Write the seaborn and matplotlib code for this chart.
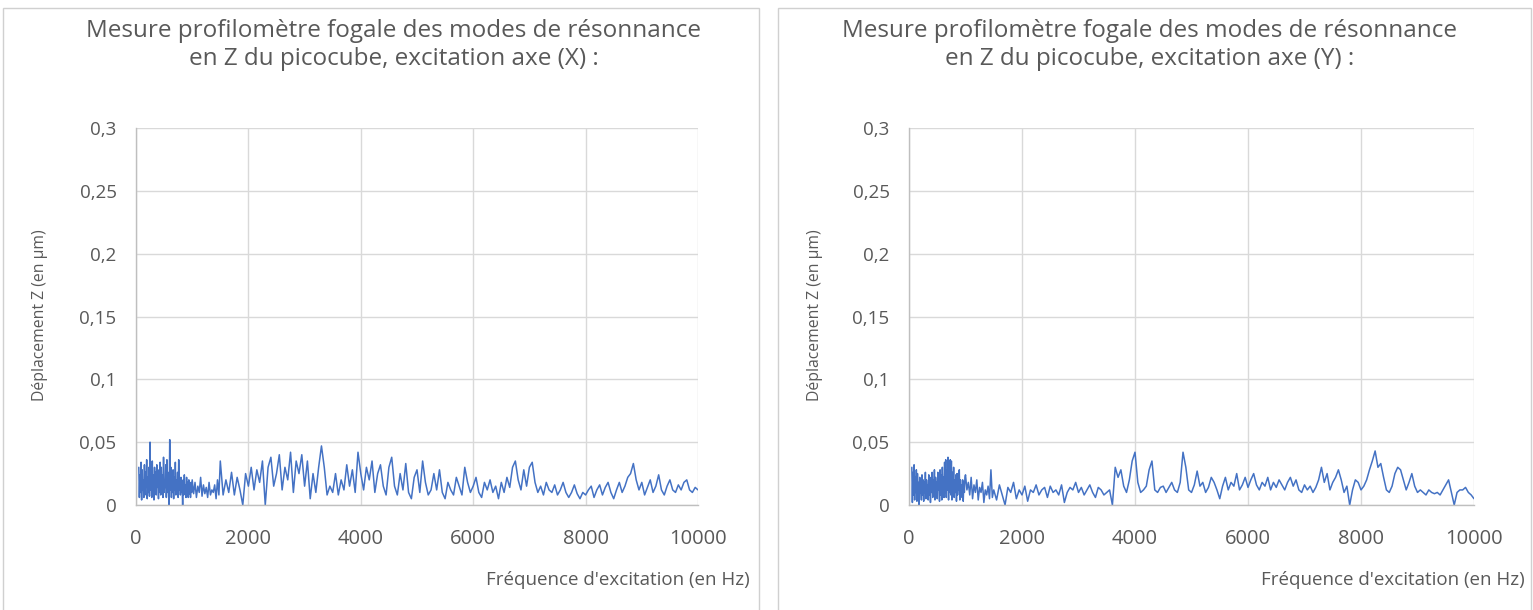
"""Profilometer (fogale) Z-resonance measurements of the picocube, X and Y excitation."""
import numpy as np
import pandas as pd
import matplotlib
matplotlib.use("Agg")
import matplotlib.pyplot as plt
from matplotlib.patches import Rectangle
from matplotlib.ticker import FuncFormatter
import seaborn as sns

# ------------------------------------------------------------------
# Data
# ------------------------------------------------------------------
# frequency grid: very fine sweep below 1000 Hz, then 25 Hz, then 50 Hz
freq_fine = np.arange(50, 1000, 10)
freq_mid = np.arange(1000, 1500, 25)
freq_coarse = np.arange(1500, 10001, 50)

x_fine = [
    0.030, 0.006, 0.024, 0.010, 0.034, 0.004, 0.028, 0.012, 0.020, 0.006,
    0.032, 0.008, 0.026, 0.014, 0.036, 0.005, 0.022, 0.010, 0.030, 0.007,
    0.050, 0.012, 0.028, 0.006, 0.035, 0.010, 0.024, 0.004, 0.030, 0.012,
    0.026, 0.008, 0.032, 0.014, 0.022, 0.005, 0.028, 0.010, 0.034, 0.008,
    0.030, 0.012, 0.024, 0.006, 0.038, 0.010, 0.020, 0.014, 0.032, 0.006,
    0.036, 0.010, 0.026, 0.008, 0.000, 0.052, 0.012, 0.030, 0.006, 0.024,
    0.010, 0.028, 0.005, 0.022, 0.012, 0.034, 0.008, 0.020, 0.010, 0.026,
    0.006, 0.036, 0.012, 0.018, 0.008, 0.022, 0.010, 0.016, 0.000, 0.020,
    0.008, 0.024, 0.010, 0.016, 0.006, 0.022, 0.012, 0.018, 0.006, 0.020,
    0.009, 0.016, 0.006, 0.018, 0.010,
]
x_mid = [
    0.020, 0.009, 0.018, 0.006, 0.015, 0.010, 0.022, 0.007, 0.016, 0.009,
    0.014, 0.006, 0.018, 0.008, 0.012, 0.010, 0.016, 0.005, 0.020, 0.008,
]
x_coarse = [
    0.035, 0.008, 0.020, 0.010, 0.026, 0.008, 0.022, 0.012, 0.000, 0.025,
    0.015, 0.030, 0.012, 0.028, 0.018, 0.035, 0.000, 0.030, 0.038, 0.015,
    0.025, 0.040, 0.012, 0.030, 0.020, 0.042, 0.010, 0.035, 0.025, 0.040,
    0.015, 0.035, 0.005, 0.025, 0.010, 0.030, 0.047, 0.030, 0.008, 0.015,
    0.010, 0.025, 0.008, 0.020, 0.012, 0.032, 0.015, 0.028, 0.010, 0.042,
    0.025, 0.012, 0.030, 0.020, 0.035, 0.010, 0.025, 0.032, 0.015, 0.008,
    0.030, 0.038, 0.015, 0.008, 0.025, 0.012, 0.033, 0.010, 0.005, 0.022,
    0.028, 0.010, 0.035, 0.018, 0.008, 0.012, 0.025, 0.012, 0.028, 0.010,
    0.005, 0.018, 0.012, 0.008, 0.022, 0.015, 0.008, 0.030, 0.018, 0.010,
    0.015, 0.022, 0.010, 0.006, 0.018, 0.012, 0.020, 0.010, 0.015, 0.005,
    0.018, 0.010, 0.022, 0.014, 0.030, 0.035, 0.020, 0.012, 0.028, 0.015,
    0.030, 0.034, 0.018, 0.010, 0.015, 0.008, 0.018, 0.012, 0.010, 0.016,
    0.008, 0.012, 0.018, 0.010, 0.006, 0.010, 0.016, 0.009, 0.005, 0.010,
    0.008, 0.012, 0.015, 0.006, 0.012, 0.016, 0.008, 0.014, 0.018, 0.010,
    0.005, 0.012, 0.018, 0.010, 0.015, 0.022, 0.025, 0.033, 0.020, 0.012,
    0.018, 0.008, 0.014, 0.020, 0.010, 0.015, 0.024, 0.012, 0.008, 0.015,
    0.020, 0.012, 0.010, 0.016, 0.012, 0.018, 0.020, 0.012, 0.010, 0.014,
    0.012,
]

y_fine = [
    0.030, 0.002, 0.026, 0.008, 0.032, 0.004, 0.022, 0.010, 0.028, 0.003,
    0.025, 0.006, 0.018, 0.000, 0.022, 0.010, 0.016, 0.004, 0.024, 0.008,
    0.020, 0.003, 0.018, 0.010, 0.026, 0.005, 0.020, 0.012, 0.016, 0.004,
    0.024, 0.008, 0.018, 0.002, 0.022, 0.010, 0.026, 0.006, 0.020, 0.012,
    0.028, 0.004, 0.022, 0.010, 0.018, 0.005, 0.026, 0.012, 0.020, 0.003,
    0.028, 0.008, 0.024, 0.004, 0.030, 0.012, 0.022, 0.006, 0.034, 0.010,
    0.036, 0.006, 0.028, 0.012, 0.038, 0.004, 0.030, 0.010, 0.036, 0.008,
    0.035, 0.004, 0.026, 0.012, 0.030, 0.006, 0.020, 0.010, 0.024, 0.003,
    0.025, 0.008, 0.018, 0.012, 0.028, 0.004, 0.020, 0.010, 0.016, 0.006,
    0.020, 0.003, 0.018, 0.010, 0.022,
]
y_mid = [
    0.024, 0.012, 0.018, 0.008, 0.022, 0.005, 0.016, 0.010, 0.020, 0.004,
    0.014, 0.010, 0.018, 0.002, 0.012, 0.008, 0.015, 0.005, 0.028, 0.006,
]
y_coarse = [
    0.012, 0.004, 0.016, 0.008, 0.000, 0.014, 0.010, 0.018, 0.005, 0.012,
    0.008, 0.015, 0.003, 0.012, 0.010, 0.016, 0.008, 0.012, 0.014, 0.006,
    0.015, 0.010, 0.012, 0.008, 0.016, 0.002, 0.010, 0.014, 0.012, 0.018,
    0.010, 0.014, 0.008, 0.012, 0.016, 0.010, 0.006, 0.014, 0.012, 0.008,
    0.010, 0.012, 0.000, 0.030, 0.022, 0.028, 0.015, 0.010, 0.020, 0.035,
    0.042, 0.018, 0.010, 0.012, 0.015, 0.028, 0.035, 0.012, 0.010, 0.014,
    0.015, 0.010, 0.014, 0.018, 0.012, 0.010, 0.018, 0.042, 0.030, 0.012,
    0.010, 0.016, 0.027, 0.015, 0.018, 0.010, 0.014, 0.022, 0.018, 0.012,
    0.005, 0.015, 0.022, 0.012, 0.018, 0.015, 0.025, 0.012, 0.016, 0.022,
    0.014, 0.020, 0.025, 0.016, 0.012, 0.018, 0.015, 0.022, 0.012, 0.018,
    0.014, 0.020, 0.016, 0.012, 0.018, 0.022, 0.015, 0.020, 0.012, 0.010,
    0.016, 0.012, 0.015, 0.010, 0.014, 0.020, 0.030, 0.018, 0.025, 0.012,
    0.018, 0.022, 0.028, 0.020, 0.010, 0.015, 0.000, 0.012, 0.020, 0.018,
    0.012, 0.015, 0.020, 0.028, 0.035, 0.043, 0.030, 0.033, 0.022, 0.012,
    0.010, 0.015, 0.025, 0.030, 0.028, 0.020, 0.012, 0.018, 0.025, 0.015,
    0.010, 0.012, 0.010, 0.008, 0.012, 0.010, 0.009, 0.010, 0.008, 0.012,
    0.016, 0.020, 0.010, 0.000, 0.010, 0.012, 0.012, 0.014, 0.010, 0.008,
    0.005,
]

titles = [
    "Mesure profilomètre fogale des modes de résonnance\nen Z du picocube, excitation axe (X) :",
    "Mesure profilomètre fogale des modes de résonnance\nen Z du picocube, excitation axe (Y) :",
]
x_label = "Fréquence d'excitation (en Hz)"
y_label = "Déplacement Z (en µm)"
x_ticks = [0, 2000, 4000, 6000, 8000, 10000]
y_ticks = [0, 0.05, 0.1, 0.15, 0.2, 0.25, 0.3]

# ------------------------------------------------------------------
# Style
# ------------------------------------------------------------------
sns.set_style("white")
plt.rcParams["font.family"] = ["Open Sans", "DejaVu Sans"]

TEXT = "#595959"
GRID = "#d9d9d9"
LINE = "#4472c4"

fig = plt.figure(figsize=(15.33, 6.10), dpi=100)
W, H = 1533, 610

# chart frames (Excel-like borders)
for x0, x1 in [(3, 759), (778, 1531)]:
    fig.patches.append(Rectangle((x0 / W, -0.02), (x1 - x0) / W, (H - 8) / H + 0.02,
                                 transform=fig.transFigure, fill=False,
                                 edgecolor="#d0d0d0", linewidth=1.0))

fmt = FuncFormatter(lambda v, _: ("%g" % round(v, 2)).replace(".", ","))

grid_f = np.concatenate([freq_fine, freq_mid, freq_coarse])
panels = [
    (136, 698, np.array(x_fine + x_mid + x_coarse), 394, 40, 750),
    (909, 1474, np.array(y_fine + y_mid + y_coarse), 1150, 815, 1525),
]

for i, (px0, px1, v, tcx, ylx, xlx) in enumerate(panels):
    assert len(grid_f) == len(v)
    ax = fig.add_axes([px0 / W, 1 - 505 / H, (px1 - px0) / W, (505 - 128) / H])
    df = pd.DataFrame({"freq": grid_f, "dz": v})
    sns.lineplot(data=df, x="freq", y="dz", ax=ax, color=LINE, linewidth=1.1)

    ax.set_xlim(0, 10000)
    ax.set_ylim(0, 0.3)
    ax.set_xticks(x_ticks)
    ax.set_yticks(y_ticks)
    ax.yaxis.set_major_formatter(fmt)
    ax.grid(True, color=GRID, linewidth=1.0)
    ax.set_axisbelow(True)
    for side in ["top", "right"]:
        ax.spines[side].set_visible(False)
    for side in ["left", "bottom"]:
        ax.spines[side].set_color("#bfbfbf")
        ax.spines[side].set_linewidth(1.0)
    ax.tick_params(axis="x", length=0, labelsize=14.5, colors=TEXT, pad=17)
    ax.tick_params(axis="y", length=0, labelsize=13.5, colors=TEXT, pad=14)
    ax.set_xlabel("")
    ax.set_ylabel("")

    fig.text(tcx / W, 1 - 45 / H, titles[i], ha="center", va="center",
             fontsize=17.5, color=TEXT, linespacing=1.2)
    fig.text(ylx / W, 1 - 315 / H, y_label, rotation=90, ha="center", va="center",
             fontsize=11.3, color=TEXT)
    fig.text(xlx / W, 1 - 580 / H, x_label, ha="right", va="center",
             fontsize=13.5, color=TEXT)

fig.savefig("out.png", dpi=100)
plt.close(fig)
